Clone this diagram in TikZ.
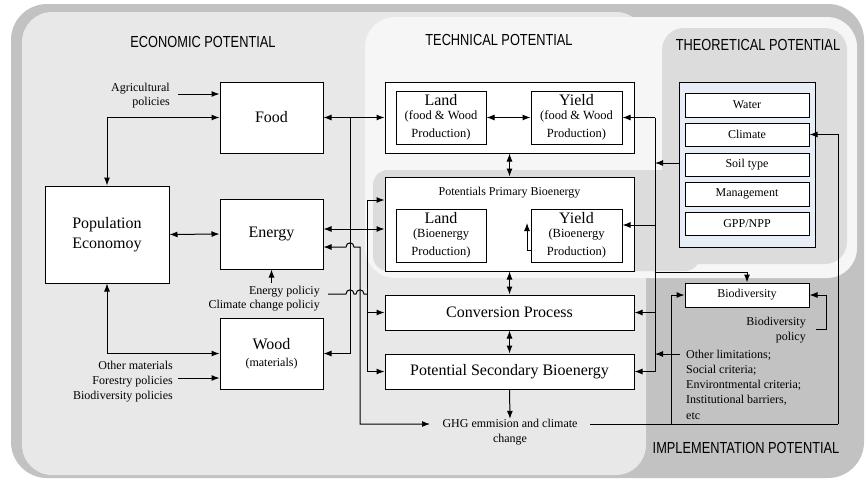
\documentclass[tikz,border=0pt]{standalone}
\usepackage{fontspec}
\setmainfont{Liberation Serif}
\newfontfamily\titlefont[FakeStretch=0.8]{Liberation Sans}
\usetikzlibrary{arrows.meta}
\definecolor{outergray}{HTML}{C2C2C2}
\definecolor{econgray}{HTML}{E8E8E8}
\definecolor{techwhite}{HTML}{F6F6F6}
\definecolor{theogray}{HTML}{DCDCDC}
\definecolor{theoblue}{HTML}{E8EEF8}
\newcommand\fsbig{\fontsize{16}{18}\selectfont}
\newcommand\fsmid{\fontsize{12.5}{13.5}\selectfont}
\newcommand\fssmall{\fontsize{12}{14}\selectfont}
\newcommand\fstitle{\titlefont\fontsize{16}{18}\selectfont}
\tikzset{
  box/.style={draw, fill=white, line width=1pt, inner sep=0pt, align=center, font=\fsbig},
  sbox/.style={box, font=\fssmall},
  lbl/.style={inner sep=0pt, font=\fssmall},
  ttl/.style={inner sep=0pt, font=\fstitle},
  conn/.style={line width=1pt},
  arr/.style={conn, -{Latex[length=8pt,width=6pt]}},
  darr/.style={conn, {Latex[length=8pt,width=6pt]}-{Latex[length=8pt,width=6pt]}},
}
\begin{document}
\begin{tikzpicture}[x=1pt,y=-1pt]
\useasboundingbox (0,0) rectangle (866,479);
% backgrounds
\fill[outergray, rounded corners=36pt] (11,4) rectangle (864,478);
\fill[econgray, rounded corners=30pt] (22,12) rectangle (646,475);
\fill[techwhite, rounded corners=30pt] (365,17) rectangle (857,278);
\fill[theogray, rounded corners=22pt] (662,28) rectangle (847,264);
\fill[theogray, rounded corners=15pt] (373,170) rectangle (700,271);

% titles
\node[ttl] (tecon) at (203,42) {ECONOMIC POTENTIAL};
\node[ttl] (ttech) at (499,40) {TECHNICAL POTENTIAL};
\node[ttl] (ttheo) at (758,45) {THEORETICAL POTENTIAL};
\node[ttl] (timpl) at (746,448) {IMPLEMENTATION POTENTIAL};

% economic boxes
\node[box, minimum width=124pt, minimum height=97pt, font=\fontsize{16}{20}\selectfont] (pop) at (107,234.5) {Population\\Economoy};
\node[box, minimum width=103pt, minimum height=71pt] (food) at (271.5,117.5) {Food};
\node[box, minimum width=103pt, minimum height=70pt] (energy) at (271.5,234) {Energy};
\node[box, minimum width=103pt, minimum height=71pt] (wood) at (271.5,353.5) {Wood\\[-1pt]\fssmall (materials)};

% technical boxes
\node[box, minimum width=249pt, minimum height=71pt] (techtop) at (509.5,117.5) {};
\node[box, minimum width=90pt, minimum height=53pt] (landfw) at (441,117.5) {Land\\[-4pt]\fsmid (food \& Wood\\\fsmid Production)};
\node[box, minimum width=91pt, minimum height=53pt] (yieldfw) at (576.5,117.5) {Yield\\[-4pt]\fsmid (food \& Wood\\\fsmid Production)};
\node[box, minimum width=249pt, minimum height=94pt] (primary) at (509.5,224) {};
\node[lbl] (primtitle) at (509.5,193) {Potentials Primary Bioenergy};
\node[box, minimum width=90pt, minimum height=53pt] (landbio) at (441,235.5) {Land\\[-4pt]\fsmid (Bioenergy\\\fsmid Production)};
\node[box, minimum width=91pt, minimum height=53pt] (yieldbio) at (576.5,235.5) {Yield\\[-4pt]\fsmid (Bioenergy\\\fsmid Production)};
\node[box, minimum width=249pt, minimum height=35pt] (conv) at (509.5,312.5) {Conversion Process};
\node[box, minimum width=249pt, minimum height=35pt] (second) at (509.5,371.5) {Potential Secondary Bioenergy};

% theoretical boxes
\node[draw, fill=theoblue, line width=1pt, minimum width=136pt, minimum height=165pt, inner sep=0pt] (theo) at (747,164.5) {};
\node[sbox, minimum width=124pt, minimum height=24pt] (water) at (747,105) {Water};
\node[sbox, minimum width=124pt, minimum height=23pt] (climate) at (747,134.5) {Climate};
\node[sbox, minimum width=124pt, minimum height=23pt] (soil) at (747,164.5) {Soil type};
\node[sbox, minimum width=124pt, minimum height=24pt] (mgmt) at (747,194) {Management};
\node[sbox, minimum width=124pt, minimum height=23pt] (gpp) at (747,223.5) {GPP/NPP};
\node[sbox, minimum width=124pt, minimum height=24pt] (biodiv) at (747,295) {Biodiversity};

% free labels
\node[lbl, anchor=east, align=right] (agri) at (170,96) {Agricultural\\policies};
\node[lbl, anchor=east, align=right, font=\fontsize{12}{15}\selectfont] (othmat) at (173,382) {Other materials\\Forestry policies\\Biodiversity policies};
\node[lbl, anchor=east, align=right] (epol) at (320,299) {Energy policiy\\Climate change policiy};
\node[lbl, align=center, font=\fontsize{12}{15}\selectfont] (ghg) at (510,432) {GHG emmision and climate\\change};
\node[lbl, anchor=east, align=right, font=\fontsize{12}{15}\selectfont] (bpol) at (806,330.5) {Biodiversity\\policy};
\node[lbl, anchor=west, align=left, font=\fontsize{12}{15.25}\selectfont] (othlim) at (686,384.5) {Other limitations;\\Social criteria;\\Environtmental criteria;\\Institutional barriers,\\etc};

% junction coordinates
\coordinate (agriout) at (178,94);
\coordinate (othout) at (178,378);
\coordinate (epolup) at (271.5,283);
\coordinate (j350) at (350,117.5);
\coordinate (epolout) at (328,294);
\coordinate (j367) at (367,294);
\coordinate (ghgin) at (430,424);
\coordinate (r655t) at (655,117.5);
\coordinate (r655b) at (655,272);
\coordinate (ghgout) at (590,424);
\coordinate (g671) at (671,424);
\coordinate (g838) at (838,424);
\coordinate (bpout) at (816,329);
\coordinate (limout) at (680,354);
\coordinate (sa) at (527,250);

% economic connectors
\draw[arr] (agriout) -- (agriout -| food.west);
\draw[darr] (food.west) -| (pop.north);
\draw[darr] (pop.east) -- (energy.west);
\draw[darr] (pop.south) |- (wood.west);
\draw[arr] (othout) -- (othout -| wood.west);
\draw[arr] (epolup) -- (energy.south);

% middle connectors
\draw[darr] (food.east) -- (techtop.west);
\draw[arr] (j350) |- (wood.east);
\draw[darr] (energy.east |- 0,229) -- (primary.west |- 0,229);
\draw[darr] (energy.east |- 0,247) -- (346,247) .. controls (346,241.5) and (354,241.5) .. (354,247) -- (360,247) |- (ghgin);
\draw[conn] (epolout) -- (346,294) .. controls (346,288.5) and (354,288.5) .. (354,294) -- (356,294) .. controls (356,288.5) and (364,288.5) .. (364,294) -- (j367);
\draw[arr] (j367) |- (primary.west |- 0,200);
\draw[arr] (j367) |- (second.west);
\draw[arr] (j367 |- conv.west) -- (conv.west);

% technical connectors
\draw[darr] (landfw.east) -- (yieldfw.west);
\draw[darr] (techtop.south) -- (primary.north);
\draw[darr] (primary.south) -- (conv.north);
\draw[darr] (conv.south) -- (second.north);
\draw[arr] (second.south) -- (ghg.north);
\draw[arr] (sa) -- ++(0,-27);
\draw[conn] (sa) -- (sa -| yieldbio.west);

% right connectors
\draw[arr] (r655t) -- (yieldfw.east);
\draw[arr] (r655t) |- (second.east);
\draw[arr] (r655t |- 0,225) -- (yieldbio.east |- 0,225);
\draw[arr] (r655t |- conv.east) -- (conv.east);
\draw[arr] (theo.west |- 0,163) -- (r655t |- 0,163);
\draw[arr] (r655b) -| (biodiv.north);
\draw[arr] (limout) -- (r655t |- limout);
\draw[conn] (ghgout) -- (g838);
\draw[arr] (g838) |- (climate.east);
\draw[arr] (g671) |- (biodiv.west);
\draw[arr] (bpout) -- (826,329) |- (biodiv.east);
\end{tikzpicture}
\end{document}
